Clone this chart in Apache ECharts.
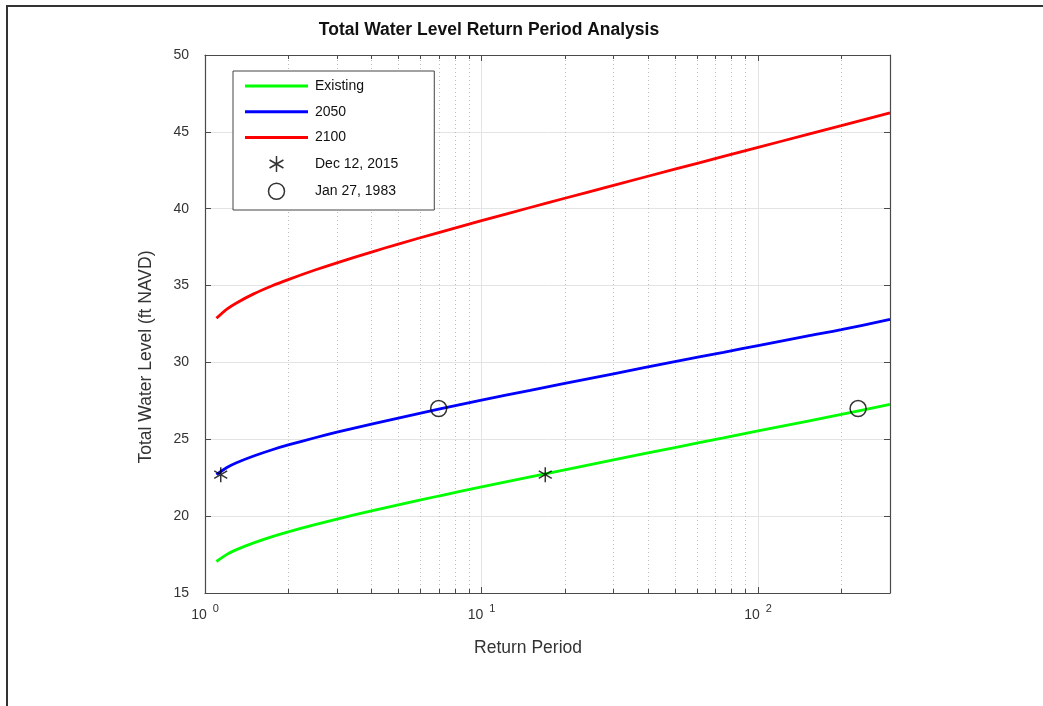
<!DOCTYPE html>
<html>
<head>
<meta charset="utf-8">
<script src="https://cdn.jsdelivr.net/npm/echarts@6/dist/echarts.min.js"></script>
<style>html,body{margin:0;padding:0;background:#fff;}#chart{width:1043px;height:706px;}</style>
</head>
<body>
<div id="chart"></div>
<script>
// ---- data ----
const returnPeriods = [1.1, 1.2, 1.3, 1.5, 1.75, 2, 2.5, 3, 4, 5, 7, 10, 15, 20, 30, 50, 75, 100, 150, 200, 300];
const existing = [17.05, 17.51, 17.82, 18.26, 18.67, 18.98, 19.45, 19.81, 20.34, 20.73, 21.31, 21.90, 22.55, 23.01, 23.66, 24.46, 25.09, 25.54, 26.17, 26.62, 27.27];
const level2050 = [22.70, 23.16, 23.47, 23.91, 24.32, 24.63, 25.10, 25.46, 25.99, 26.38, 26.96, 27.55, 28.18, 28.63, 29.26, 30.05, 30.66, 31.10, 31.71, 32.13, 32.80];
const level2100 = [32.87, 33.47, 33.87, 34.46, 34.99, 35.39, 36.01, 36.48, 37.18, 37.70, 38.45, 39.22, 40.08, 40.68, 41.52, 42.57, 43.40, 43.99, 44.82, 45.40, 46.23];
const dec2015 = [[1.14, 22.7], [17, 22.7]];
const jan1983 = [[7, 27.0], [230, 27.0]];
const minorTickValues = [2, 3, 4, 5, 6, 7, 8, 9, 20, 30, 40, 50, 60, 70, 80, 90, 200];
const seriesNames = ['Existing', '2050', '2100', 'Dec 12, 2015', 'Jan 27, 1983'];
const yMin = 15, yMax = 50, yStep = 5;
const xMin = 1, xMax = 300;

const FONT = '"Liberation Sans", Arial, sans-serif';
const pair = (xs, ys) => xs.map((x, i) => [x, ys[i]]);
const STAR = 'path://M10,0 L10,20 M1.34,5 L18.66,15 M1.34,15 L18.66,5';
const LINE_ICON = 'path://M0,0 L63,0 L63,2.8 L0,2.8 Z';

const chart = echarts.init(document.getElementById('chart'), null, {renderer: 'canvas'});

const axisColor = '#4a4a4a';
const lineSeries = (name, values, color) => ({
  name: name, type: 'line', data: pair(returnPeriods, values),
  symbol: 'none', showSymbol: false, smooth: 0.3,
  lineStyle: {color: color, width: 2.8}, itemStyle: {color: color}, z: 3
});

const option = {
  backgroundColor: '#fff',
  animation: false,
  title: {
    text: 'Total Water Level Return Period Analysis',
    left: 489, top: 21, textAlign: 'center', padding: 0,
    textStyle: {fontFamily: FONT, fontSize: 17.5, fontWeight: 'bold', color: '#111'}
  },
  grid: {left: 205, right: 153, top: 55, bottom: 113},
  legend: {
    orient: 'vertical', left: 233, top: 71,
    itemWidth: 63, itemHeight: 16, itemGap: 9.75,
    padding: [7, 36, 10, 12],
    backgroundColor: '#fff', borderColor: '#444', borderWidth: 1, borderRadius: 0,
    textStyle: {fontFamily: FONT, fontSize: 14, lineHeight: 16, color: '#111', padding: [0, 0, 0, 2]},
    data: [
      {name: seriesNames[0], icon: LINE_ICON, itemStyle: {color: '#00ff00', borderWidth: 0}},
      {name: seriesNames[1], icon: LINE_ICON, itemStyle: {color: '#0000ff', borderWidth: 0}},
      {name: seriesNames[2], icon: LINE_ICON, itemStyle: {color: '#ff0000', borderWidth: 0}},
      {name: seriesNames[3], icon: STAR, itemStyle: {color: 'rgba(0,0,0,0)', borderColor: '#000', borderWidth: 1.5}},
      {name: seriesNames[4], icon: 'circle', itemStyle: {color: 'rgba(0,0,0,0)', borderColor: '#000', borderWidth: 1.5}}
    ]
  },
  xAxis: [
    {
      type: 'log', logBase: 10, min: xMin, max: xMax, position: 'bottom',
      axisLine: {show: true, lineStyle: {color: axisColor, width: 1.2}},
      axisTick: {show: true, inside: true, length: 6, lineStyle: {color: axisColor}},
      axisLabel: {
        margin: 10,
        formatter: function (v) {
          const e = Math.log10(v), r = Math.round(e);
          if (Math.abs(e - r) > 1e-6) return '';
          return '{b|10}{s|' + r + '}';
        },
        rich: {
          b: {fontFamily: FONT, fontSize: 14, color: '#333'},
          s: {fontFamily: FONT, fontSize: 11, color: '#333', padding: [0, 0, 14, 6]}
        }
      },
      splitLine: {show: true, lineStyle: {color: '#e4e4e4', width: 1}}
    },
    {
      type: 'log', logBase: 10, min: xMin, max: xMax, position: 'top',
      axisLine: {show: true, lineStyle: {color: axisColor, width: 1.2}},
      axisTick: {show: true, inside: true, length: 6, lineStyle: {color: axisColor}},
      axisLabel: {show: false}, splitLine: {show: false}
    }
  ],
  yAxis: [
    {
      type: 'value', min: yMin, max: yMax, interval: yStep, position: 'left',
      axisLine: {show: true, lineStyle: {color: axisColor, width: 1.2}},
      axisTick: {show: true, inside: true, length: 6, lineStyle: {color: axisColor}},
      axisLabel: {margin: 16, fontFamily: FONT, fontSize: 14, color: '#333'},
      splitLine: {show: true, lineStyle: {color: '#e4e4e4', width: 1}}
    },
    {
      type: 'value', min: yMin, max: yMax, interval: yStep, position: 'right',
      axisLine: {show: true, lineStyle: {color: axisColor, width: 1.2}},
      axisTick: {show: true, inside: true, length: 6, lineStyle: {color: axisColor}},
      axisLabel: {show: false}, splitLine: {show: false}
    }
  ],
  graphic: [
    {type: 'rect', silent: true, z: 100, shape: {x: 7, y: 6, width: 1200, height: 900},
     style: {fill: 'none', stroke: '#333', lineWidth: 2}},
    {type: 'text', x: 146, y: 357, rotation: Math.PI / 2,
     style: {text: 'Total Water Level (ft NAVD)', font: '17.5px ' + FONT, fill: '#333', align: 'center', verticalAlign: 'middle'}},
    {type: 'text', x: 528, y: 648,
     style: {text: 'Return Period', font: '17.5px ' + FONT, fill: '#333', align: 'center', verticalAlign: 'middle'}}
  ],
  series: [
    {
      name: 'minor', type: 'custom', xAxisIndex: 0, yAxisIndex: 0, z: 1, silent: true,
      data: minorTickValues.map(v => [v, yMin]),
      encode: {x: 0, y: 1},
      renderItem: function (params, api) {
        const v = api.value(0);
        const b = api.coord([v, yMin]);
        const t = api.coord([v, yMax]);
        const x = Math.round(b[0]) + 0.5;
        return {
          type: 'group',
          children: [
            {type: 'line', shape: {x1: x, y1: b[1], x2: x, y2: t[1]},
             style: {stroke: '#bdbdbd', lineWidth: 1, lineDash: [1, 3]}},
            {type: 'line', shape: {x1: x, y1: b[1], x2: x, y2: b[1] - 4},
             style: {stroke: axisColor, lineWidth: 1}},
            {type: 'line', shape: {x1: x, y1: t[1], x2: x, y2: t[1] + 4},
             style: {stroke: axisColor, lineWidth: 1}}
          ]
        };
      }
    },
    lineSeries('Existing', existing, '#00ff00'),
    lineSeries('2050', level2050, '#0000ff'),
    lineSeries('2100', level2100, '#ff0000'),
    {name: 'Dec 12, 2015', type: 'scatter', data: dec2015, z: 4,
     symbol: STAR, symbolSize: 15, symbolKeepAspect: true,
     itemStyle: {color: 'rgba(0,0,0,0)', borderColor: '#000', borderWidth: 1.5}},
    {name: 'Jan 27, 1983', type: 'scatter', data: jan1983, z: 4,
     symbol: 'circle', symbolSize: 16,
     itemStyle: {color: 'rgba(0,0,0,0)', borderColor: '#000', borderWidth: 1.5}}
  ]
};
chart.setOption(option);
</script>
</body>
</html>
